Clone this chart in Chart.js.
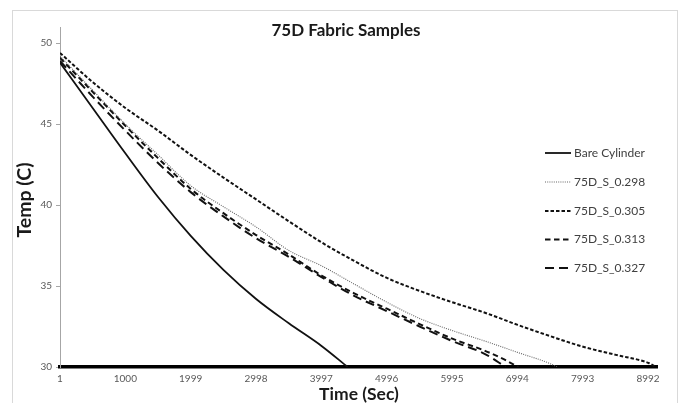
<!DOCTYPE html>
<html>
<head>
<meta charset="utf-8">
<script src="https://cdn.jsdelivr.net/npm/chart.js@4/dist/chart.umd.min.js"></script>
<style>
  html, body { margin: 0; padding: 0; background: #ffffff; }
  #wrap { position: relative; width: 682px; height: 403px; }
  canvas { display: block; }
</style>
</head>
<body>
<div id="wrap"><canvas id="c" width="682" height="403"></canvas></div>
<script>
// ---- data ----
const chartTitle = "75D Fabric Samples";
const xTitle = "Time (Sec)";
const yTitle = "Temp (C)";
const xTickValues = [1, 1000, 1999, 2998, 3997, 4996, 5995, 6994, 7993, 8992];
const yTickValues = [30, 35, 40, 45, 50];
const seriesLabels = ["Bare Cylinder", "75D_S_0.298", "75D_S_0.305", "75D_S_0.313", "75D_S_0.327"];

const timeBare = [1, 500, 1000, 1500, 2000, 2500, 3000, 3500, 4000, 4400];
const tempBare = [48.8, 46.0, 43.2, 40.5, 38.1, 36.0, 34.2, 32.7, 31.3, 30.0];

const time298 = [1, 500, 1000, 1500, 2000, 2500, 3000, 3500, 4000, 4500, 5000, 5500, 6000, 6500, 7000, 7500, 7600];
const temp298 = [49.2, 47.1, 45.0, 43.1, 41.2, 39.9, 38.65, 37.2, 36.25, 35.12, 34.0, 33.0, 32.25, 31.6, 30.9, 30.2, 30.0];

const time305 = [1, 500, 1000, 1500, 2000, 2500, 3000, 3500, 4000, 4500, 5000, 5500, 6000, 6500, 7000, 7500, 8000, 8500, 9000, 9115];
const temp305 = [49.4, 47.6, 46.0, 44.6, 43.1, 41.7, 40.35, 39.0, 37.7, 36.55, 35.5, 34.7, 34.0, 33.35, 32.6, 31.9, 31.25, 30.75, 30.25, 30.0];

const time313 = [1, 500, 1000, 1500, 2000, 2500, 3000, 3500, 4000, 4500, 5000, 5500, 6000, 6500, 6800, 7010];
const temp313 = [49.1, 47.0, 44.9, 42.9, 41.0, 39.5, 38.15, 36.95, 35.65, 34.55, 33.6, 32.65, 31.75, 31.0, 30.45, 30.0];

const time327 = [1, 500, 1000, 1500, 2000, 2500, 3000, 3500, 4000, 4500, 5000, 5500, 6000, 6500, 6815];
const temp327 = [48.9, 46.7, 44.6, 42.6, 40.8, 39.3, 37.95, 36.8, 35.55, 34.4, 33.45, 32.5, 31.6, 30.8, 30.0];

// ---- build ----
function pts(ts, vs) { return ts.map((t, i) => ({ x: t, y: vs[i] })); }

const styles = [
  { color: '#111111', width: 1.8, dash: [] },
  { color: '#666666', width: 1.1, dash: [1, 1.2] },
  { color: '#111111', width: 2, dash: [3.5, 2] },
  { color: '#111111', width: 2, dash: [5.5, 3.5] },
  { color: '#111111', width: 2, dash: [9, 5] }
];
const seriesData = [pts(timeBare, tempBare), pts(time298, temp298), pts(time305, temp305), pts(time313, temp313), pts(time327, temp327)];

const datasets = seriesLabels.map((lab, i) => ({
  label: lab,
  data: seriesData[i],
  borderColor: styles[i].color,
  borderWidth: styles[i].width,
  borderDash: styles[i].dash,
  pointRadius: 0,
  fill: false,
  cubicInterpolationMode: 'monotone'
}));

const FONT = 'Lato, "Open Sans", sans-serif';

const deco = {
  id: 'deco',
  beforeDraw(chart) {
    const ctx = chart.ctx;
    ctx.save();
    ctx.fillStyle = '#ffffff';
    ctx.fillRect(0, 0, chart.width, chart.height);
    ctx.strokeStyle = '#d9d9d9';
    ctx.lineWidth = 1;
    ctx.strokeRect(12.5, 10.5, 665, 420);
    ctx.restore();
  },
  afterDraw(chart) {
    const ctx = chart.ctx;
    ctx.save();
    // title
    ctx.fillStyle = '#1a1a1a';
    ctx.font = 'bold 17px ' + FONT;
    ctx.textAlign = 'center';
    ctx.textBaseline = 'middle';
    ctx.fillText(chartTitle, 346, 31);
    // axis titles
    ctx.font = 'bold 17.5px ' + FONT;
    ctx.fillText(xTitle, 359, 394);
    ctx.save();
    ctx.font = 'bold 19.5px ' + FONT;
    ctx.translate(25, 200);
    ctx.rotate(-Math.PI / 2);
    ctx.fillText(yTitle, 0, 0);
    ctx.restore();
    // legend
    const ys = [153, 182, 211, 239.5, 268];
    ctx.font = '12px ' + FONT;
    ctx.textAlign = 'left';
    chart.data.datasets.forEach((ds, i) => {
      const y = ys[i];
      ctx.save();
      ctx.strokeStyle = ds.borderColor;
      ctx.lineWidth = ds.borderWidth;
      ctx.setLineDash(ds.borderDash);
      ctx.beginPath();
      ctx.moveTo(545, y);
      ctx.lineTo(571, y);
      ctx.stroke();
      ctx.restore();
      ctx.fillStyle = '#404040';
      ctx.fillText(ds.label, 574, y);
    });
    ctx.restore();
  }
};

new Chart(document.getElementById('c'), {
  type: 'line',
  data: { datasets },
  plugins: [deco],
  options: {
    responsive: false,
    animation: false,
    devicePixelRatio: 1,
    layout: { padding: { top: 27, right: 25, left: 0, bottom: 0 } },
    plugins: { legend: { display: false }, title: { display: false }, tooltip: { enabled: false } },
    scales: {
      x: {
        type: 'linear',
        min: 1,
        max: 9130,
        afterBuildTicks: (s) => { s.ticks = xTickValues.map(v => ({ value: v })); },
        afterFit: (s) => { s.height = 36; },
        ticks: {
          autoSkip: false, maxRotation: 0, padding: 6,
          color: '#595959', font: { family: FONT, size: 10 },
          callback: (v) => String(v)
        },
        grid: { display: true, drawOnChartArea: false, drawTicks: false },
        border: { display: true, color: '#000000', width: 3.5 }
      },
      y: {
        type: 'linear',
        min: 30,
        max: 51,
        afterBuildTicks: (s) => { s.ticks = yTickValues.map(v => ({ value: v })); },
        afterFit: (s) => { s.width = 60; },
        ticks: { padding: 4, color: '#595959', font: { family: FONT, size: 10 } },
        grid: { display: true, drawOnChartArea: false, drawTicks: true, tickLength: 4, color: '#a6a6a6' },
        border: { display: true, color: '#a6a6a6', width: 1 }
      }
    }
  }
});
</script>
</body>
</html>
